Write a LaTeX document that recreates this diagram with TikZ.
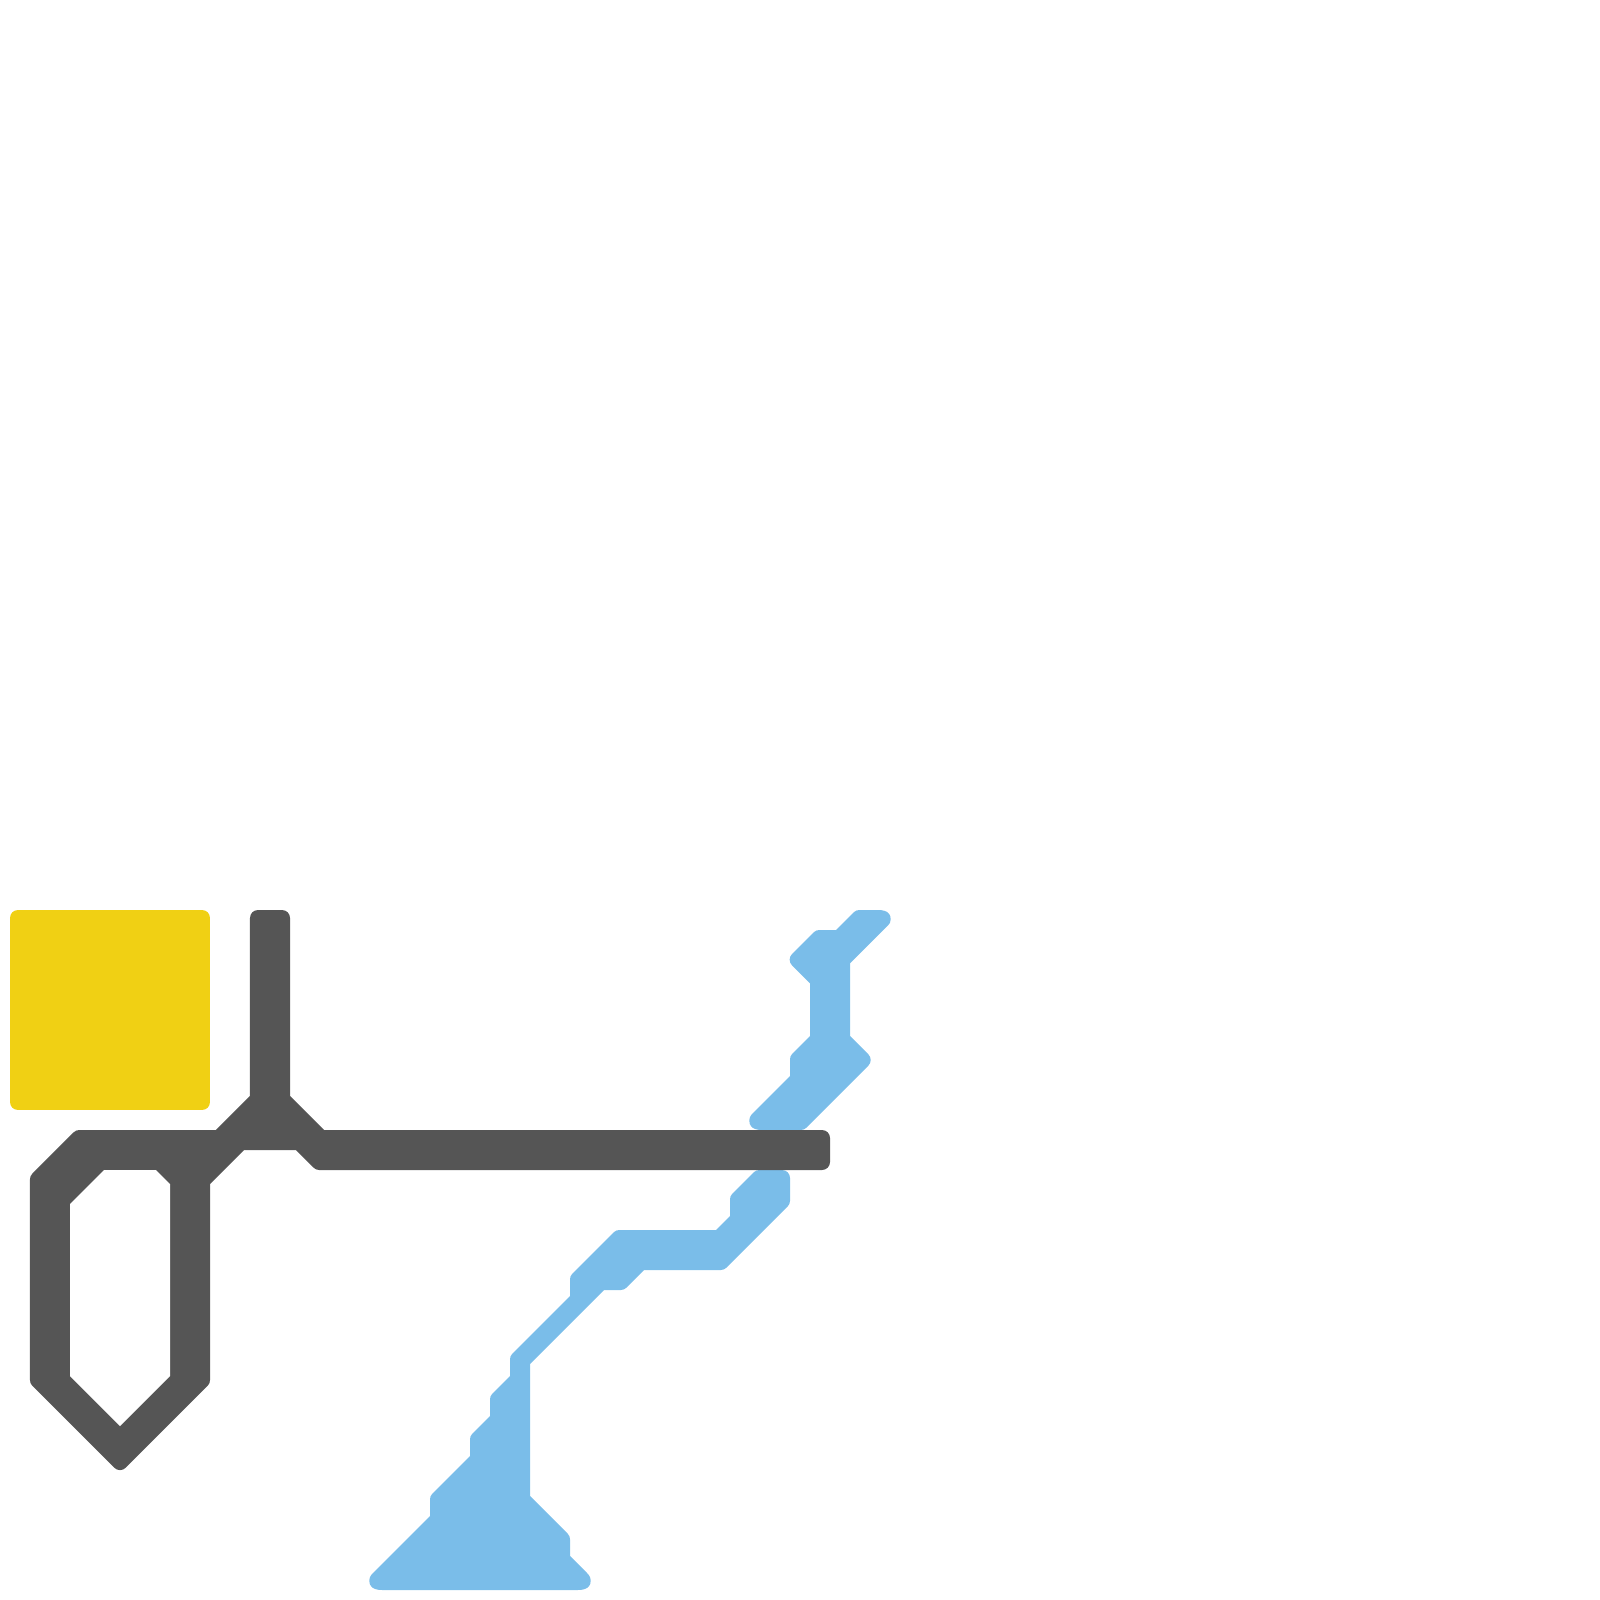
\documentclass[tikz,border=0pt]{standalone}
\definecolor{amarillo}{HTML}{F0D014}
\definecolor{gris}{HTML}{555555}
\definecolor{celeste}{HTML}{7ABDE9}
\tikzset{pieza/.style={line width=1.6mm, line join=round}}

\begin{document}
\begin{tikzpicture}[x=0.01cm, y=-0.01cm, line join=round]
    \useasboundingbox (0,0) rectangle (1600,1600);
    % cuadro amarillo
    \filldraw[pieza, amarillo] (18,918) -- (202,918) -- (202,1102) -- (18,1102) -- cycle;
    % tramo celeste superior
    \filldraw[pieza, celeste] (859.3,918) -- (876,918) .. controls (884,918) and (884,918.7) .. (881,921)
        -- (842,960) -- (842,1039.3) -- (862.7,1060) -- (800.7,1122) -- (764,1122)
        .. controls (756,1122) and (756,1121.3) .. (759,1118.3) -- (798,1079.3)
        -- (798,1059.3) -- (818,1039.3) -- (818,980) -- (797.65,959.65) -- (819.3,938)
        -- (839.3,938) -- cycle;
    % tramo celeste inferior
    \filldraw[pieza, celeste] (759.3,1178) -- (782,1178) -- (782,1200.7) -- (720.7,1262)
        -- (640.7,1262) -- (620.7,1282) -- (600.7,1282) -- (522,1360.7) -- (522,1499.3)
        -- (562,1539.3) -- (562,1559.3) -- (581,1578.3) .. controls (584,1581.3) and (584,1582) .. (576,1582)
        -- (384,1582) .. controls (376,1582) and (376,1581.3) .. (379,1578.3)
        -- (438,1519.3) -- (438,1499.3) -- (478,1459.3) -- (478,1439.3)
        -- (498,1419.3) -- (498,1399.3) -- (518,1379.3) -- (518,1359.3) -- (578,1299.3)
        -- (578,1279.3) -- (619.3,1238) -- (719.3,1238) -- (738,1219.3) -- (738,1199.3) -- cycle;
    % pieza gris y su hueco
    \filldraw[pieza, gris] (258,918) -- (282,918) -- (282,1099.3) -- (320.7,1138) -- (822,1138)
        -- (822,1162) -- (319.3,1162) -- (299.3,1142) -- (240.7,1142) -- (202,1180.7)
        -- (202,1380.1) -- (120,1462.1) -- (38,1380.1) -- (38,1179.3) -- (79.3,1138)
        -- (219.3,1138) -- (258,1099.3) -- cycle;
    \fill[white] (70,1204) -- (104,1170) -- (156,1170) -- (170,1184) -- (170,1376)
        -- (120,1426) -- (70,1376) -- cycle;
\end{tikzpicture}
\end{document}
